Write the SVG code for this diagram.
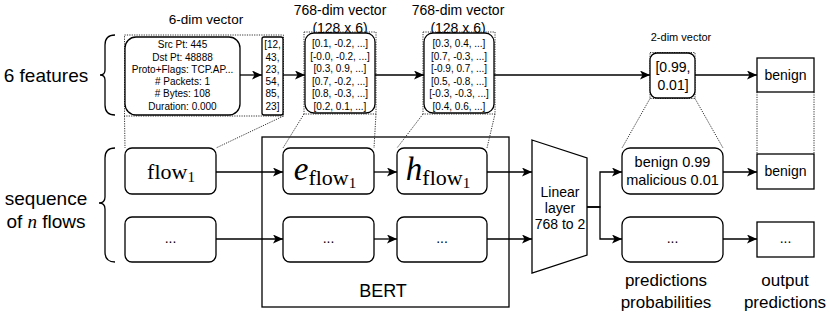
<svg xmlns="http://www.w3.org/2000/svg" width="830" height="316" viewBox="0 0 830 316">
<style>
text{font-family:"Liberation Sans",Arial,sans-serif;fill:#000;text-anchor:middle}
.box{fill:#fff;stroke:#000;stroke-width:1.3}
.frame{fill:none;stroke:#000;stroke-width:1.3}
.dot{fill:none;stroke:#333;stroke-width:1;stroke-dasharray:1.2,1.2}
.ln{fill:none;stroke:#000;stroke-width:1.3}
.arr{fill:none;stroke:#000;stroke-width:1.3;marker-end:url(#ah)}
.s10{font-size:10px}
.s14{font-size:14px}
.lbl{font-size:19px}
.math{font-family:"Liberation Serif","Times New Roman",serif}
</style>
<defs>
<marker id="ah" markerUnits="userSpaceOnUse" markerWidth="11" markerHeight="9" refX="10" refY="4.5" orient="auto">
<path d="M0,0 L10,4.5 L0,9 L2.5,4.5 Z" fill="#000"/>
</marker>
</defs>

<g id="labels">
<text class="lbl" x="46" y="82">6 features</text>
<path class="ln" d="M115,35 Q105,35 105,45 L105,70 Q105,75 100,75 Q105,75 105,80 L105,105 Q105,115 115,115" stroke-width="1.2"/>
<text class="lbl" x="46" y="205">sequence</text>
<text class="lbl" x="46" y="228">of <tspan class="math" font-style="italic">n</tspan> flows</text>
<path class="ln" d="M115,148 Q105,148 105,158 L105,197 Q105,203 99,203 Q105,203 105,209 L105,252 Q105,262 115,262" stroke-width="1.2"/>
<text x="206" y="24" font-size="13.5px">6-dim vector</text>
<text x="340" y="15" font-size="14px">768-dim vector</text>
<text x="340" y="33" font-size="14px">(128 x 6)</text>
<text x="458" y="15" font-size="14px">768-dim vector</text>
<text x="458" y="33" font-size="14px">(128 x 6)</text>
<text x="681" y="41" font-size="11px">2-dim vector</text>
<text x="666" y="286" font-size="17px">predictions</text>
<text x="666" y="308" font-size="17px">probabilities</text>
<text x="785" y="286" font-size="17px">output</text>
<text x="785" y="308" font-size="17px">predictions</text>
</g>

<g id="bert">
<rect class="frame" x="262" y="137" width="247" height="170"/>
<text x="383" y="297" font-size="18px">BERT</text>
</g>

<g id="dotted">
<rect class="dot" x="124.5" y="35" width="159" height="81"/>
<path class="dot" d="M124.5,116 L125,148 M283.5,116 L216,148"/>
<rect class="dot" x="304" y="32" width="72" height="82"/>
<path class="dot" d="M304,114 L283,148 M376,114 L374,148"/>
<rect class="dot" x="423" y="32" width="72" height="82"/>
<path class="dot" d="M423,114 L397,148 M495,114 L487,148"/>
<rect class="dot" x="650" y="52.5" width="45" height="46"/>
<path class="dot" d="M650,98.5 L622,148 M695,98.5 L723,148"/>
<path class="dot" d="M757,92 L757,154 M814,92 L814,154"/>
</g>

<g id="connectors">
<path class="arr" d="M240,75 L262,75"/>
<path class="arr" d="M283,75 L305,75"/>
<path class="arr" d="M375,75 L424,75"/>
<path class="arr" d="M494,75 L650,75"/>
<path class="arr" d="M695,75 L757,75"/>
<path class="arr" d="M216,172 L283,172"/>
<path class="arr" d="M374,172 L397,172"/>
<path class="arr" d="M487,172 L532,172"/>
<path class="arr" d="M216,239 L283,239"/>
<path class="arr" d="M374,239 L397,239"/>
<path class="arr" d="M487,239 L532,239"/>
<path class="arr" d="M587,207 L600,207 L600,172 L622,172"/>
<path class="arr" d="M587,207 L600,207 L600,239 L622,239"/>
<path class="arr" d="M723,172 L757,172"/>
<path class="arr" d="M723,239 L757,239"/>
</g>

<g id="features">
<rect class="box" x="125" y="37" width="115" height="78" rx="11"/>
<text class="s10" x="182.5" y="48">Src Pt: 445</text>
<text class="s10" x="182.5" y="60.5">Dst Pt: 48888</text>
<text class="s10" x="182.5" y="72.5">Proto+Flags: TCP.AP...</text>
<text class="s10" x="182.5" y="85"># Packets: 1</text>
<text class="s10" x="182.5" y="97"># Bytes: 108</text>
<text class="s10" x="182.5" y="109.5">Duration: 0.000</text>
</g>

<g id="vec6">
<rect class="box" x="262" y="37" width="21" height="78" rx="2"/>
<text class="s10" x="272.5" y="48">[12,</text>
<text class="s10" x="272.5" y="60.5">43,</text>
<text class="s10" x="272.5" y="72.5">23,</text>
<text class="s10" x="272.5" y="85">54,</text>
<text class="s10" x="272.5" y="97">85,</text>
<text class="s10" x="272.5" y="109.5">23]</text>
</g>

<g id="vecE">
<rect class="box" x="305" y="33" width="70" height="80" rx="9"/>
<text class="s10" x="340" y="47">[0.1, -0.2, ...]</text>
<text class="s10" x="340" y="59.5">[-0.0, -0.2, ...]</text>
<text class="s10" x="340" y="72">[0.3, 0.9, ...]</text>
<text class="s10" x="340" y="84.5">[0.7, -0.2, ...]</text>
<text class="s10" x="340" y="97">[0.8, -0.3, ...]</text>
<text class="s10" x="340" y="109.5">[0.2, 0.1, ...]</text>
</g>

<g id="vecH">
<rect class="box" x="424" y="33" width="70" height="80" rx="9"/>
<text class="s10" x="459" y="47">[0.3, 0.4, ...]</text>
<text class="s10" x="459" y="59.5">[0.7, -0.3, ...]</text>
<text class="s10" x="459" y="72">[-0.9, 0.7, ...]</text>
<text class="s10" x="459" y="84.5">[0.5, -0.8, ...]</text>
<text class="s10" x="459" y="97">[-0.3, -0.3, ...]</text>
<text class="s10" x="459" y="109.5">[0.4, 0.6, ...]</text>
</g>

<g id="vec2">
<rect class="box" x="650" y="53" width="45" height="45" rx="7"/>
<text class="s14" x="673" y="72">[0.99,</text>
<text class="s14" x="673" y="90">0.01]</text>
</g>

<g id="outTop">
<rect class="box" x="757" y="58" width="57" height="34"/>
<text class="s14" x="785.5" y="80">benign</text>
</g>

<g id="flow1">
<rect class="box" x="125" y="148" width="91" height="46" rx="7"/>
<text class="math" x="171" y="179" font-size="22px">flow<tspan font-size="15px" dy="3">1</tspan></text>
</g>

<g id="flowN">
<rect class="box" x="125" y="217" width="91" height="45" rx="7"/>
<text class="s14" x="170.5" y="243">...</text>
</g>

<g id="eflow">
<rect class="box" x="283" y="148" width="91" height="46" rx="7"/>
<text class="math" x="325" y="180" font-size="33px"><tspan font-style="italic">e</tspan><tspan font-size="22px" dy="5">flow</tspan><tspan font-size="15px" dy="3">1</tspan></text>
</g>

<g id="hflow">
<rect class="box" x="397" y="148" width="90" height="46" rx="7"/>
<text class="math" x="438" y="180" font-size="33px"><tspan font-style="italic">h</tspan><tspan font-size="22px" dy="5">flow</tspan><tspan font-size="15px" dy="3">1</tspan></text>
</g>

<g id="eN">
<rect class="box" x="283" y="217" width="91" height="45" rx="7"/>
<text class="s14" x="328.5" y="243">...</text>
</g>

<g id="hN">
<rect class="box" x="397" y="217" width="90" height="45" rx="7"/>
<text class="s14" x="442" y="243">...</text>
</g>

<g id="linear">
<path class="box" d="M532,140 L587,158 L587,255 L532,273 Z"/>
<text class="s14" x="560" y="197">Linear</text>
<text class="s14" x="560" y="213">layer</text>
<text class="s14" x="560" y="229">768 to 2</text>
</g>

<g id="prob1">
<rect class="box" x="622" y="148" width="101" height="46" rx="8"/>
<text x="672.5" y="167" font-size="14.5px">benign 0.99</text>
<text x="672.5" y="185" font-size="14.5px">malicious 0.01</text>
</g>

<g id="probN">
<rect class="box" x="622" y="217" width="101" height="45" rx="8"/>
<text class="s14" x="672.5" y="243">...</text>
</g>

<g id="out1">
<rect class="box" x="757" y="154" width="57" height="35"/>
<text class="s14" x="785.5" y="176">benign</text>
</g>

<g id="outN">
<rect class="box" x="757" y="222" width="57" height="35"/>
<text class="s14" x="785.5" y="243">...</text>
</g>
</svg>
